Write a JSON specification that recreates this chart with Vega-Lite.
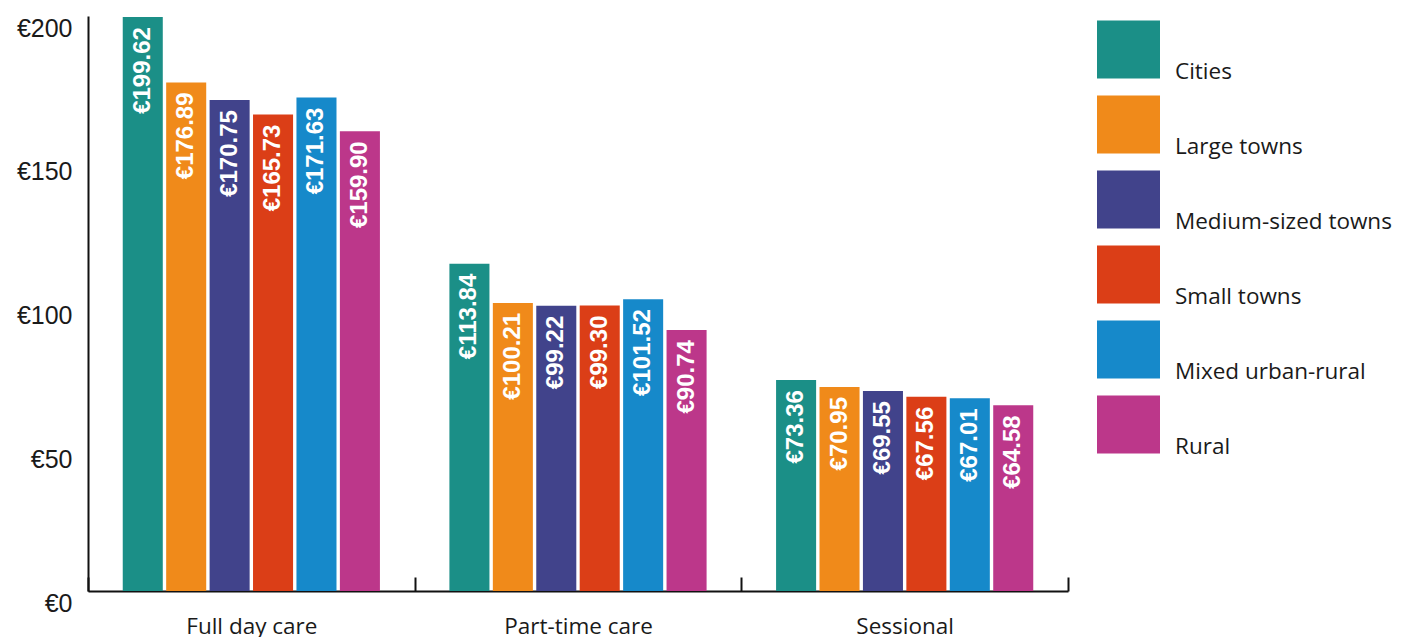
{
  "$schema": "https://vega.github.io/schema/vega-lite/v6.json",
  "width": 980,
  "height": 575,
  "autosize": {"type": "none"},
  "padding": {"left": 88, "top": 16, "right": 342, "bottom": 46},
  "background": "#ffffff",
  "config": {
    "view": {"stroke": null},
    "axis": {"labelColor": "#1a1a1a", "domainColor": "#111111", "domainWidth": 2, "grid": false, "title": null}
  },
  "data": {
    "values": [
      {"care": "Full day care", "area": "Cities", "value": 199.62},
      {"care": "Full day care", "area": "Large towns", "value": 176.89},
      {"care": "Full day care", "area": "Medium-sized towns", "value": 170.75},
      {"care": "Full day care", "area": "Small towns", "value": 165.73},
      {"care": "Full day care", "area": "Mixed urban-rural", "value": 171.63},
      {"care": "Full day care", "area": "Rural", "value": 159.90},
      {"care": "Part-time care", "area": "Cities", "value": 113.84},
      {"care": "Part-time care", "area": "Large towns", "value": 100.21},
      {"care": "Part-time care", "area": "Medium-sized towns", "value": 99.22},
      {"care": "Part-time care", "area": "Small towns", "value": 99.30},
      {"care": "Part-time care", "area": "Mixed urban-rural", "value": 101.52},
      {"care": "Part-time care", "area": "Rural", "value": 90.74},
      {"care": "Sessional", "area": "Cities", "value": 73.36},
      {"care": "Sessional", "area": "Large towns", "value": 70.95},
      {"care": "Sessional", "area": "Medium-sized towns", "value": 69.55},
      {"care": "Sessional", "area": "Small towns", "value": 67.56},
      {"care": "Sessional", "area": "Mixed urban-rural", "value": 67.01},
      {"care": "Sessional", "area": "Rural", "value": 64.58}
    ]
  },
  "transform": [
    {"calculate": "'€' + format(datum.value, '.2f')", "as": "label"}
  ],
  "encoding": {
    "x": {
      "field": "care",
      "type": "nominal",
      "sort": ["Full day care", "Part-time care", "Sessional"],
      "scale": {"paddingInner": 0, "paddingOuter": 0},
      "axis": {
        "labelAngle": 0,
        "labelFont": "Open Sans",
        "labelFontSize": 22.5,
        "labelPadding": 38,
        "labelBaseline": "top",
        "tickBand": "extent",
        "tickSize": -14,
        "tickWidth": 2,
        "tickColor": "#111111"
      }
    },
    "xOffset": {
      "field": "area",
      "type": "nominal",
      "sort": ["Cities", "Large towns", "Medium-sized towns", "Small towns", "Mixed urban-rural", "Rural"],
      "scale": {"paddingInner": 0.078, "paddingOuter": 0.8}
    },
    "y": {
      "field": "value",
      "type": "quantitative",
      "scale": {"domain": [0, 200], "nice": false},
      "axis": {
        "values": [0, 50, 100, 150, 200],
        "labelExpr": "'€' + datum.value",
        "labelFont": "Liberation Sans",
        "labelFontSize": 25,
        "labelBaseline": "top",
        "labelPadding": 16,
        "ticks": false,
        "tickSize": 0
      }
    }
  },
  "layer": [
    {
      "mark": {"type": "bar"},
      "encoding": {
        "color": {
          "field": "area",
          "type": "nominal",
          "scale": {
            "domain": ["Cities", "Large towns", "Medium-sized towns", "Small towns", "Mixed urban-rural", "Rural"],
            "range": ["#1b8f87", "#f08a1a", "#41438b", "#db3e17", "#1689ca", "#bc378a"]
          },
          "legend": {
            "title": null,
            "orient": "none",
            "legendX": 1009,
            "legendY": 31,
            "padding": 0,
            "symbolType": "M-1,-1.84H1V0H-1Z",
            "symbolSize": 3969,
            "symbolStrokeWidth": 0,
            "symbolOpacity": 1,
            "labelFont": "Open Sans",
            "labelFontSize": 22.5,
            "labelColor": "#1a1a1a",
            "labelBaseline": "alphabetic",
            "labelOffset": 15,
            "labelLimit": 400,
            "rowPadding": 12
          }
        }
      }
    },
    {
      "mark": {
        "type": "text",
        "angle": 270,
        "align": "right",
        "baseline": "middle",
        "dx": -10,
        "font": "Liberation Sans",
        "fontWeight": "bold",
        "fontSize": 24,
        "color": "#ffffff"
      },
      "encoding": {
        "text": {"field": "label"}
      }
    }
  ]
}
